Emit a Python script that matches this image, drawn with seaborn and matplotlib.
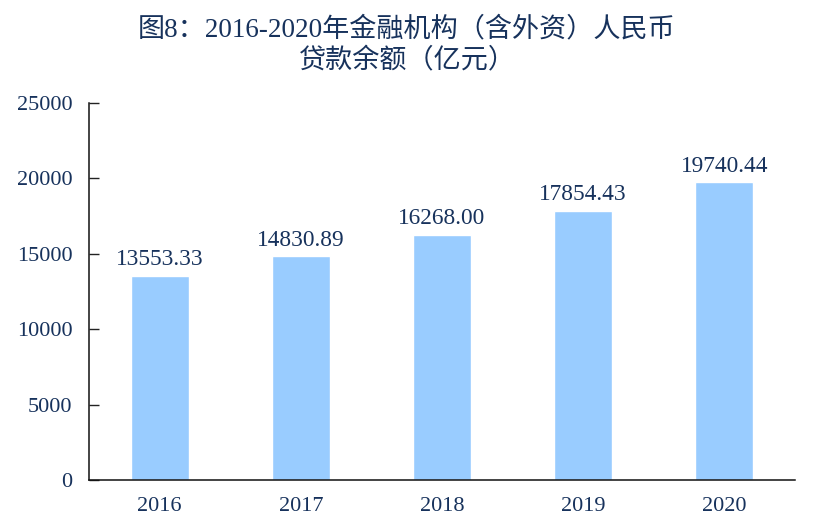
import numpy as np
import pandas as pd
import matplotlib
matplotlib.use('Agg')
import matplotlib.pyplot as plt
import seaborn as sns

# data
years = ['2016', '2017', '2018', '2019', '2020']
loans = [13553.33, 14830.89, 16268.00, 17854.43, 19740.44]
title = '图8：2016-2020年金融机构（含外资）人民币\n贷款余额（亿元）'

sns.set_style('white')
plt.rcParams['font.family'] = ['Liberation Serif', 'Noto Sans CJK SC', 'DejaVu Sans']
navy = '#17325c'

df = pd.DataFrame({'year': years, 'loan': loans})

fig = plt.figure(figsize=(8.14, 5.25), dpi=100)
ax = fig.add_axes([89/814, 45/525, 706/814, 377/525])

sns.barplot(data=df, x='year', y='loan', color='#99ccff', width=0.41,
            saturation=1, ax=ax)
ax.bar_label(ax.containers[0], labels=['%.2f' % v for v in loans],
             padding=4, fontsize=16.8, color=navy)

ax.set_xlim(-0.5, 4.5)
ax.set_ylim(0, 25000)
ax.set_yticks(np.arange(0, 25001, 5000))
ax.set_xlabel('')
ax.set_ylabel('')

# category separators on the x axis, pointing up
ax.set_xticks(np.arange(0.5, 4.6, 1), minor=True)
ax.tick_params(axis='x', which='major', length=0, pad=12, labelsize=16, labelcolor=navy)
ax.tick_params(axis='x', which='minor', direction='in', length=7, width=1, color='#333333')
ax.tick_params(axis='y', direction='in', length=7, width=1, color='#222222',
               pad=12, labelsize=16, labelcolor=navy, left=True)

sns.despine(ax=ax)
for s in ('left', 'bottom'):
    ax.spines[s].set_color('#111111')
    ax.spines[s].set_linewidth(1.1)

fig.text(0.5, 0.913, title, ha='center', va='center', fontsize=19.5,
         color=navy, linespacing=1.28, multialignment='center')

fig.savefig('out.png', dpi=100)
